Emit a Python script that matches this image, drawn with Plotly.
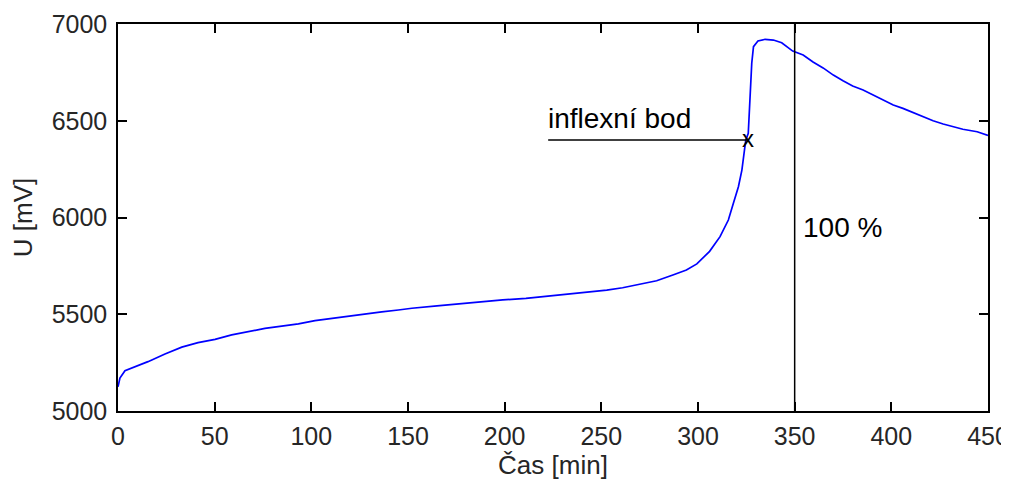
import plotly.graph_objects as go

# Measured curve: time [min] and voltage [mV]
t_min = [0, 1, 3.6, 8.8, 15.5, 24.3, 33, 41.4, 50.2, 58.8, 67.4, 76, 84.7, 93.3, 101.9,
         110.5, 119.2, 127.8, 136.4, 145, 152, 165, 175, 187, 199, 211, 222.5, 233.8,
         244, 252.8, 261, 270, 278.6, 287, 294, 299.4, 302.8, 306, 311.4, 315.7, 318.3,
         320.9, 322.7, 323.9, 324.7, 326, 327, 327.8, 328.7, 331, 334.7, 339, 343.3,
         349, 354.4, 359.5, 364.7, 370, 375, 380, 385.4, 390.6, 395.8, 401, 406, 411.3,
         416.5, 421.6, 426.8, 432, 437, 444.4, 450]
u_mv = [5125, 5170, 5208, 5229, 5255, 5295, 5330, 5353, 5370, 5393, 5410, 5427, 5439,
        5450, 5467, 5479, 5491, 5502, 5512, 5522, 5531, 5543, 5553, 5565, 5574, 5582,
        5594, 5605, 5615, 5625, 5637, 5655, 5673, 5703, 5729, 5760, 5795, 5825, 5901,
        5987, 6073, 6159, 6245, 6332, 6400, 6435, 6676, 6797, 6883, 6912, 6921, 6917,
        6903, 6860, 6840, 6804, 6773, 6736, 6707, 6680, 6659, 6633, 6604, 6581, 6564,
        6542, 6521, 6500, 6483, 6469, 6456, 6443, 6424]

x_ticks = [0, 50, 100, 150, 200, 250, 300, 350, 400, 450]
y_ticks = [5000, 5500, 6000, 6500, 7000]

# Annotations
inflex_point = (326, 6400)
inflex_line_start = 222.5
inflex_label = "inflexní bod"
full_time = 350
full_label = "100 %"
x_title = "Čas [min]"
y_title = "U [mV]"

FONT = "Liberation Sans, Arial, sans-serif"

fig = go.Figure()
fig.add_trace(go.Scatter(x=t_min, y=u_mv, mode="lines",
                         line=dict(color="#0000FF", width=1.7),
                         hoverinfo="skip", showlegend=False))

# inflection marker line
fig.add_shape(type="line", xref="x", yref="y",
              x0=inflex_line_start, x1=inflex_point[0] - 0.5,
              y0=inflex_point[1], y1=inflex_point[1],
              line=dict(color="black", width=1.5))
# 100 % vertical line
fig.add_shape(type="line", xref="x", yref="y",
              x0=full_time, x1=full_time, y0=5000, y1=7000,
              line=dict(color="black", width=1.5))

fig.add_annotation(x=inflex_point[0], y=inflex_point[1], text="x", showarrow=False,
                   xanchor="center", yanchor="middle", yshift=2,
                   font=dict(family=FONT, size=24, color="black"))
fig.add_annotation(x=inflex_line_start, y=6514, text=inflex_label, showarrow=False,
                   xanchor="left", yanchor="middle", xshift=-2,
                   font=dict(family=FONT, size=28, color="black"))
fig.add_annotation(x=354.4, y=5946, text=full_label, showarrow=False,
                   xanchor="left", yanchor="middle", xshift=-2,
                   font=dict(family=FONT, size=28, color="black"))

axis_common = dict(showgrid=False, zeroline=False, showline=True, linecolor="black",
                   linewidth=1.5, mirror="ticks", ticks="inside", ticklen=9,
                   tickwidth=1.5, tickcolor="black",
                   tickfont=dict(family=FONT, size=25, color="#262626"))

fig.update_xaxes(range=[0, 450], tickvals=x_ticks, ticktext=[str(v) for v in x_ticks],
                 ticklabelstandoff=2,
                 title=dict(text=x_title, font=dict(family=FONT, size=26, color="#262626"),
                            standoff=2),
                 **axis_common)
fig.update_yaxes(range=[5000, 7000], tickvals=y_ticks, ticktext=[str(v) for v in y_ticks],
                 ticklabelstandoff=4,
                 title=dict(text=y_title, font=dict(family=FONT, size=26, color="#262626"),
                            standoff=12),
                 **axis_common)

# the page adds an 8px body margin, so the figure is sized and offset for it
fig.update_layout(width=1001, height=473, plot_bgcolor="white", paper_bgcolor="white",
                  margin=dict(l=110, r=21, t=16, b=70, autoexpand=False))

fig.write_html("out.html")
